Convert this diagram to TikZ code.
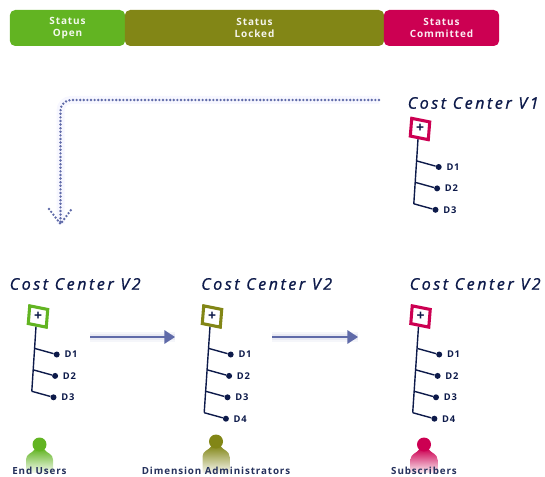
\documentclass[tikz,border=0pt]{standalone}
\usepackage{fontspec}
\setmainfont{Open Sans}
\newfontfamily\spaced[LetterSpace=9]{Open Sans}
\newfontfamily\wide[LetterSpace=16,FakeBold=1.1]{Open Sans}
\usetikzlibrary{positioning,arrows.meta}

\definecolor{openc}{HTML}{62B422}
\definecolor{lockc}{HTML}{828616}
\definecolor{commitc}{HTML}{CC0052}
\definecolor{navy}{HTML}{0D1A4A}
\definecolor{arrowc}{HTML}{5F6AA8}

\tikzset{
    bar/.style={fill=#1, rounded corners=4pt, minimum height=27pt, align=center,
        text=white!92!#1, font=\spaced\fontsize{7.5}{9.6}\selectfont\bfseries, inner sep=0pt,
        execute at begin node=\rule{0pt}{9pt}},
    title/.style={anchor=west, inner sep=0pt, text=navy, font=\wide\fontsize{12}{13}\selectfont\itshape},
    who/.style={inner sep=0pt, text=navy!90!white, font=\spaced\fontsize{7.35}{8}\selectfont\bfseries},
    keybox/.style={draw=#1, fill=white, line width=2.3pt, yslant=-0.2, xslant=0.08, transform shape, minimum size=13.5pt, inner sep=0pt},
    dotn/.style={circle, fill=navy, minimum size=4.5pt, inner sep=0pt},
    dlabel/.style={inner sep=0pt, text=navy, font=\spaced\fontsize{7}{8}\selectfont\bfseries},
    stem/.style={draw=navy, line width=1.05pt},
    dotline/.style={draw=arrowc, line width=2pt, line cap=round, dash pattern=on 0pt off 2.7pt},
    flow/.style={draw=arrowc, line width=1.6pt, -{Triangle[length=8pt,width=10pt]}},
    glow/.style={line width=#1},
}

\begin{document}
\begin{tikzpicture}[x=0.75pt,y=-0.75pt]
    \useasboundingbox (0,0) rectangle (545,477);

    %% status bars
    \node[bar=openc, minimum width=86.5pt] (open) at (67.5,28) {Status\\Open};
    \node[bar=lockc, minimum width=194.5pt] (locked) at (254.5,28) {Status\\Locked};
    \node[bar=commitc, minimum width=86.5pt] (committed) at (441.5,28) {Status\\Committed};

    %% the way back from V1 to V2
    \coordinate (backstart) at (379,100);
    \coordinate (backend) at (60.5,224);
    \coordinate (headl) at (49,209);
    \coordinate (headr) at (72.5,208);
    \draw[glow=6pt, color=blue!3, rounded corners=8pt] (backstart) -| (backend);
    \draw[dotline, rounded corners=8pt] (backstart) -| (backend);
    \draw[dotline] (headl) -- (backend) -- (headr);

    %% the trees
    \node[title] (titlea) at (407.5,103) {Cost Center V1};
    \node[title] (titleb) at (9.5,284) {Cost Center V2};
    \node[title] (titlec) at (201,284) {Cost Center V2};
    \node[title] (titled) at (409.5,284) {Cost Center V2};

    \foreach \name/\x/\y/\col/\last in {a/420/129/commitc/2, b/38/316.5/openc/2, c/212/316.5/lockc/3, d/420.5/316.5/commitc/3}{
        \begin{scope}[shift={(\x,\y)}]
            \coordinate (\name b\last) at (-3-1.6*\last,32+21.4*\last);
            \draw[stem] (-2,10) -- (\name b\last);
            \node[keybox=\col] (\name) at (0,0) {};
            \node[inner sep=0pt, text=navy, font=\fontsize{10.5}{10.5}\selectfont\bfseries] (\name plus) at (0,-0.5) {+};
            \foreach \i [evaluate=\i as \num using int(\i+1)] in {0,...,\last}{
                \coordinate (\name b\i) at (-3-1.6*\i,32+21.4*\i);
                \node[dotn] (\name d\i) at (18.7-1.6*\i,38+21.4*\i) {};
                \node[dlabel, right=3.2pt of \name d\i] (\name l\i) {D\num};
                \draw[stem] (\name b\i) -- (\name d\i);
            }
        \end{scope}
    }

    %% handing on
    \coordinate (flowa) at (90,337);
    \coordinate (flowb) at (175,337);
    \coordinate (flowc) at (272,337);
    \coordinate (flowd) at (358,337);
    \draw[glow=8pt, color=arrowc!6] (flowa) -- (flowb);
    \draw[glow=8pt, color=arrowc!6] (flowc) -- (flowd);
    \draw[glow=4.5pt, color=arrowc!14] (flowa) -- (flowb);
    \draw[glow=4.5pt, color=arrowc!14] (flowc) -- (flowd);
    \draw[flow] (flowa) -- (flowb);
    \draw[flow] (flowc) -- (flowd);

    %% the people
    \foreach \name/\x/\y/\col in {users/39.5/444.5/openc, admins/216/441.5/lockc, subs/424/444.5/commitc}{
        \begin{scope}[shift={(\x,\y)}]
            \shade[top color=\col, middle color=\col!80, bottom color=\col!6] (-13.5,473-\y) -- (-13.5,15) .. controls (-13.5,9) and (-7,9) .. (-4,4)
                -- (4,4) .. controls (7,9) and (13.5,9) .. (13.5,15) -- (13.5,473-\y) -- cycle;
            \node[circle, fill=\col, minimum size=10.5pt, inner sep=0pt] (\name) at (0,0) {};
        \end{scope}
    }
    \node[who] (userstext) at (39.5,471) {End Users};
    \node[who] (adminstext) at (216,471) {Dimension Administrators};
    \node[who] (substext) at (424,471) {Subscribers};
\end{tikzpicture}
\end{document}
